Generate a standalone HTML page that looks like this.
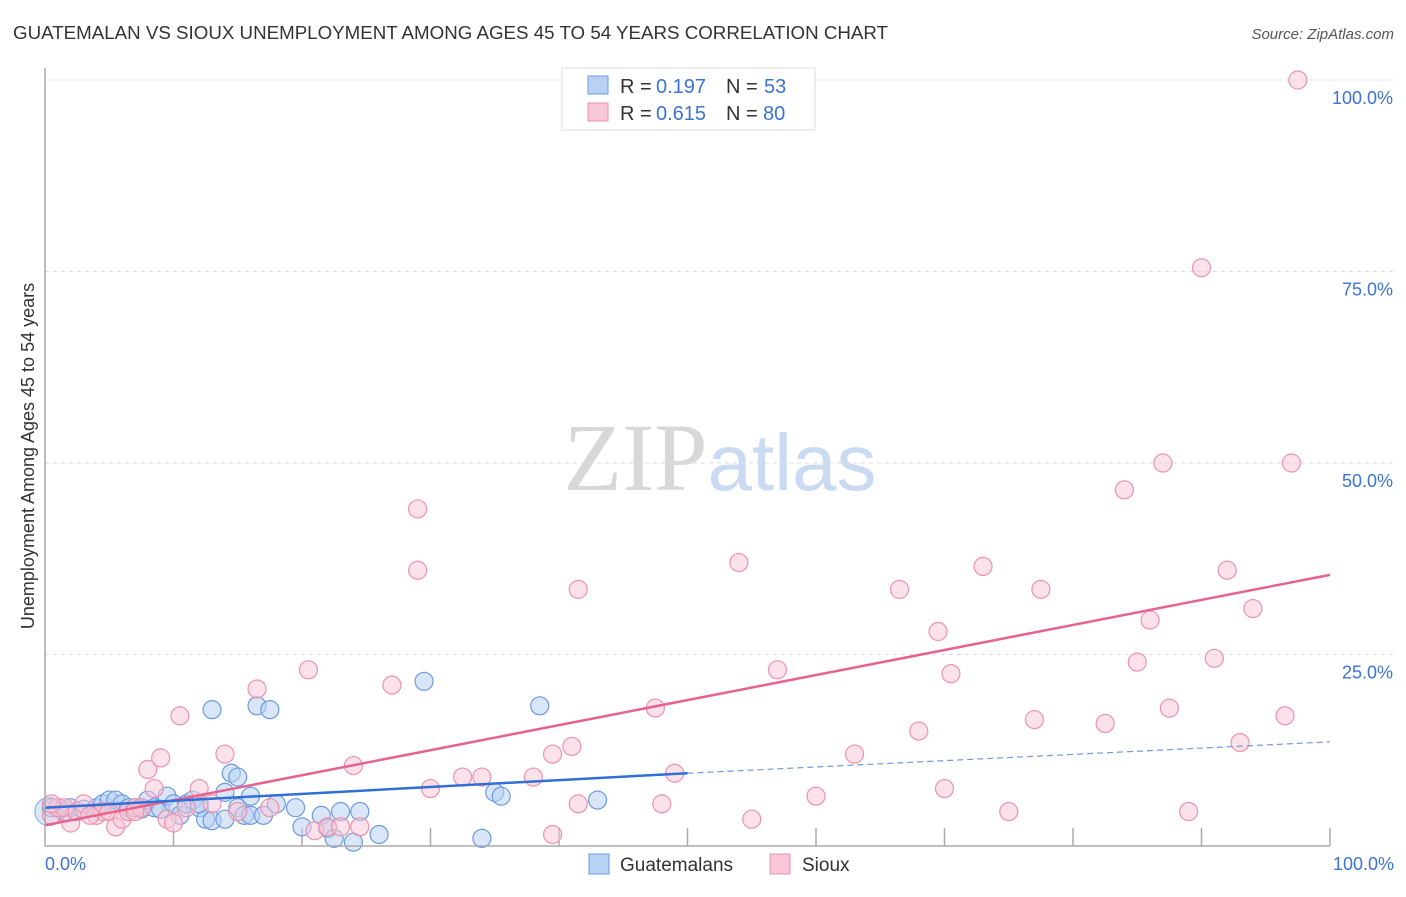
<!DOCTYPE html>
<html><head><meta charset="utf-8"><style>
body{margin:0;background:#fff;font-family:"Liberation Sans",sans-serif;}
</style></head><body>
<svg id="chart" width="1406" height="892" xmlns="http://www.w3.org/2000/svg" style="font-family:'Liberation Sans',sans-serif">
<text x="13" y="39" font-size="18" fill="#333" textLength="875" lengthAdjust="spacingAndGlyphs">GUATEMALAN VS SIOUX UNEMPLOYMENT AMONG AGES 45 TO 54 YEARS CORRELATION CHART</text>
<text x="1394" y="39" font-size="15" fill="#555" text-anchor="end" font-style="italic">Source: ZipAtlas.com</text>
<text x="720" y="490" font-size="96" text-anchor="middle"><tspan font-family="Liberation Serif" fill="#d8d8d8">ZIP</tspan><tspan fill="#c9daf2" font-size="80">atlas</tspan></text>
<text transform="translate(34,456) rotate(-90)" font-size="18" fill="#333" text-anchor="middle">Unemployment Among Ages 45 to 54 years</text>
<g id="grid"></g><g id="pts"></g><g id="lines"></g>
<line x1="45" y1="846" x2="1330" y2="846" stroke="#aaa" stroke-width="1.5"/>
<line x1="45" y1="68" x2="45" y2="846" stroke="#aaa" stroke-width="1.5"/>
<text x="45" y="870" font-size="18" fill="#3b73d6">0.0%</text>
<text x="1394" y="870" font-size="18" fill="#3b73d6" text-anchor="end">100.0%</text>
<g>
<rect x="562" y="68" width="253" height="62" fill="#fff" stroke="#ddd"/>
<rect x="588" y="76" width="20" height="18" fill="#b9d1f3" stroke="#6a9be0"/>
<rect x="588" y="103" width="20" height="18" fill="#f8c6d6" stroke="#ec92ae"/>
<text x="620" y="93" font-size="20" fill="#333">R =</text><text x="656" y="93" font-size="20" fill="#3b73d6">0.197</text>
<text x="726" y="93" font-size="20" fill="#333">N =</text><text x="764" y="93" font-size="20" fill="#3b73d6">53</text>
<text x="620" y="120" font-size="20" fill="#333">R =</text><text x="656" y="120" font-size="20" fill="#3b73d6">0.615</text>
<text x="726" y="120" font-size="20" fill="#333">N =</text><text x="763" y="120" font-size="20" fill="#3b73d6">80</text>
</g>
<g>
<rect x="589" y="854" width="20" height="20" fill="#b9d1f3" stroke="#6a9be0"/>
<text x="620" y="871" font-size="19" fill="#333">Guatemalans</text>
<rect x="770" y="854" width="20" height="20" fill="#f8c6d6" stroke="#ec92ae"/>
<text x="802" y="871" font-size="19" fill="#333">Sioux</text>
</g>
</svg>
<script>
const yTicks=[25,50,75,100];
const yTickLabels=["25.0%","50.0%","75.0%","100.0%"];
const xTicks=[10,20,30,40,50,60,70,80,90,100];
const blueX=[0.5,1,1.5,2,3,4,4.5,5,5.5,6,6.5,7,7.5,8,8.5,9,9.5,10,10.5,11,11.5,12,12.5,13,13,14,14,14.5,15,15,15.5,16,16,16.5,17,17.5,18,19.5,20,21.5,22,22.5,23,24.5,26,29.5,34,35,35.5,38.5,43,24,12];
const blueY=[5,5,4.5,5,4.8,5,5.5,6,6,5.5,5,5,4.8,6,5,4.8,6.5,5.5,4,5.5,6,5,3.5,3.3,17.8,3.5,7,9.5,9,5,4,6.5,4,18.3,4,17.8,5.5,5,2.5,4,2.3,1,4.5,4.5,1.5,21.5,1,7,6.5,18.3,6,0.5,5.5];
const pinkX=[0.5,1,1.5,2,2.5,3,4,4.5,5,5.5,6,6.5,7,7.5,8,8.5,9,9.5,10,10.5,11,12,13,14,15,16.5,17.5,20.5,21,22,23,24,24.5,27,29,29,30,32.5,34,38,39.5,39.5,41,41.5,41.5,47.5,48,49,54,55,57,60,63,66.5,68,69.5,70,70.5,73,75,77,77.5,82.5,84,85,87,86,87.5,89,91,92,93,94,97,96.5,97.5,90,0.5,3.5,7];
const pinkY=[4,5,5,3,4.5,5.5,4,4.5,4.5,2.5,3.5,4.5,5,5,10,7.5,11.5,3.5,3,17,5,7.5,5.5,12,4.5,20.5,5,23,2,2.5,2.5,10.5,2.5,21,36,44,7.5,9,9,9,12,1.5,13,33.5,5.5,18,5.5,9.5,37,3.5,23,6.5,12,33.5,15,28,7.5,22.5,36.5,4.5,16.5,33.5,16,46.5,24,50,29.5,18,4.5,24.5,36,13.5,31,50,17,100,75.5,5.5,4,4.5];
const pinkLine=[2.7,35.4];
const blueLine=[5,9.5,13.6];
const X=v=>45+v*12.85, Y=v=>846-v*7.66;
const NS="http://www.w3.org/2000/svg";
function mk(t,a,p){const e=document.createElementNS(NS,t);for(const k in a)e.setAttribute(k,a[k]);p.appendChild(e);return e;}
const grid=document.getElementById('grid');
yTicks.forEach((t,i)=>{
 const l=mk('line',{x1:45,x2:1394,y1:Y(t),y2:Y(t),stroke:'#ddd','stroke-dasharray':'4,4'},grid);
 
 
 const tx=mk('text',{x:1393,y:Y(t)+24,'font-size':18,fill:'#3b73d6','text-anchor':'end'},grid);
 tx.textContent=yTickLabels[i];
 
 
});
xTicks.forEach(t=>{
 const l=mk('line',{x1:X(t),x2:X(t),y1:828,y2:846,stroke:'#aaa','stroke-width':1.5},grid);
 
 
});
const pts=document.getElementById('pts');
const o1=mk('circle',{cx:X(0.3),cy:Y(4.5),r:14,fill:'rgba(185,209,243,0.5)',stroke:'#7aa6e6'},pts);


blueX.forEach((x,i)=>{
 const c=mk('circle',{cx:X(x),cy:Y(blueY[i]),r:9,fill:'rgba(185,209,243,0.55)',stroke:'#6a9be0','stroke-width':1.2},pts);
 
 
});
pinkX.forEach((x,i)=>{
 const c=mk('circle',{cx:X(x),cy:Y(pinkY[i]),r:9,fill:'rgba(248,198,214,0.5)',stroke:'#ec92ae','stroke-width':1.2},pts);
 
 
});
const ln=document.getElementById('lines');
const p=mk('line',{x1:X(0),y1:Y(pinkLine[0]),x2:X(100),y2:Y(pinkLine[1]),stroke:'#e8628e','stroke-width':2.5},ln);


const b=mk('line',{x1:X(0),y1:Y(blueLine[0]),x2:X(50),y2:Y(blueLine[1]),stroke:'#2f6fd6','stroke-width':2.5},ln);


const bd=mk('line',{x1:X(50),y1:Y(blueLine[1]),x2:X(100),y2:Y(blueLine[2]),stroke:'#6a9be0','stroke-width':1.2,'stroke-dasharray':'6,4'},ln);


</script>
</body></html>
